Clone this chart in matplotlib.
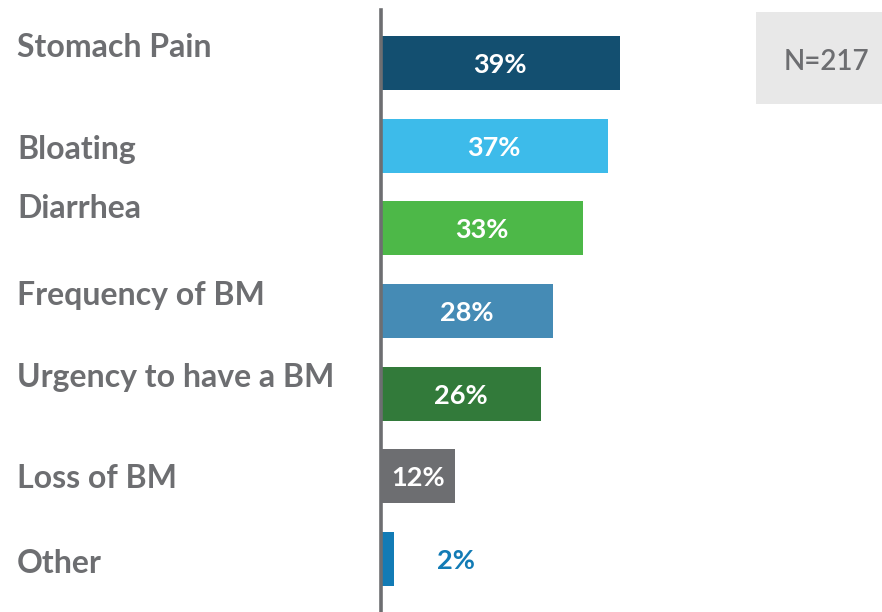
import matplotlib.pyplot as plt
from matplotlib.patches import Rectangle

plt.rcParams["font.family"] = ["Lato", "DejaVu Sans"]

# survey results
symptoms = ["Stomach Pain", "Bloating", "Diarrhea", "Frequency of BM",
            "Urgency to have a BM", "Loss of BM", "Other"]
shares = [39, 37, 33, 28, 26, 12, 2]
bar_colors = ["#134F70", "#3DBBEA", "#4DB848", "#458BB5",
              "#327A3A", "#6D6E71", "#127BB5"]
sample_label = "N=217"

GREY = "#6D6E71"
# baseline shift of each category label relative to its bar centre, in pixels
label_shift = [-6, 13, -10, -6, -7, 12, 14]

fig = plt.figure(figsize=(8.82, 6.12), dpi=100)
ax = fig.add_axes([381 / 882, 0, 501 / 882, 602 / 612])

pos = list(range(len(symptoms)))
ax.barh(pos, shares, height=0.653, color=bar_colors, left=0.15)
ax.set_xlim(0, 82.1)
ax.set_ylim(6.641, -0.641)

for sp in ["top", "right", "bottom"]:
    ax.spines[sp].set_visible(False)
ax.spines["left"].set_color(GREY)
ax.spines["left"].set_linewidth(2.6)
ax.set_xticks([])
ax.set_yticks([])

for i, (name, val) in enumerate(zip(symptoms, shares)):
    ax.annotate(name, xy=(17 / 882, i), xycoords=("figure fraction", "data"),
                xytext=(0, -label_shift[i]), textcoords="offset pixels",
                ha="left", va="baseline", fontsize=23, fontweight="bold",
                color=GREY)
    if val >= 10:
        ax.text(val / 2, i, f"{val}%", ha="center", va="center_baseline",
                fontsize=19.5, fontweight="bold", color="white")
    else:
        ax.annotate(f"{val}%", xy=(val, i), xytext=(44, 0),
                    textcoords="offset pixels", ha="left",
                    va="center_baseline", fontsize=19.5, fontweight="bold",
                    color=bar_colors[i])

fig.add_artist(Rectangle((756 / 882, 1 - 104 / 612), 126 / 882, 92 / 612,
                         transform=fig.transFigure, color="#E8E8E8", lw=0))
fig.text(826 / 882, 1 - 60 / 612, sample_label, ha="center",
         va="center_baseline", fontsize=20, fontweight="semibold", color=GREY)

fig.savefig("out.png", dpi=100)
